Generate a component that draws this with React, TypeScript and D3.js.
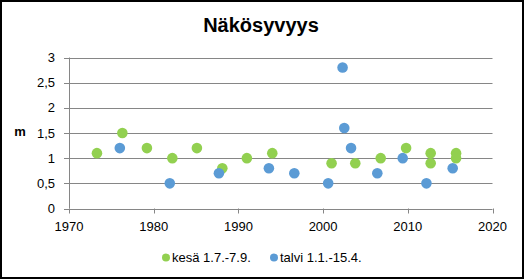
import React from "react";
import * as d3 from "d3";

const summerYears = [1973.3, 1976.3, 1979.2, 1982.2, 1985.1, 1988.1, 1991.0, 1994.0, 2001.0, 2003.8, 2006.8, 2009.8, 2012.7, 2012.7, 2015.7, 2015.7];
const summerValues = [1.1, 1.5, 1.2, 1.0, 1.2, 0.8, 1.0, 1.1, 0.9, 0.9, 1.0, 1.2, 1.1, 0.9, 1.1, 1.0];
const winterYears = [1976.0, 1981.9, 1987.7, 1993.6, 1996.6, 2000.6, 2002.3, 2002.5, 2003.3, 2006.4, 2009.4, 2012.2, 2015.3];
const winterValues = [1.2, 0.5, 0.7, 0.8, 0.7, 0.5, 2.8, 1.6, 1.2, 0.7, 1.0, 0.5, 0.8];
const xTicks = [1970, 1980, 1990, 2000, 2010, 2020];
const yTicks = [0, 0.5, 1, 1.5, 2, 2.5, 3];
const seriesNames = ["kesä 1.7.-7.9.", "talvi 1.1.-15.4."];
const colors = ["#92D050", "#5B9BD5"];

export default function App() {
  const W = 524, H = 279;
  const x = d3.scaleLinear().domain([1970, 2020]).range([69, 492.5]);
  const y = d3.scaleLinear().domain([0, 3]).range([208.5, 57.5]);
  const font = "'Liberation Sans', Arial, sans-serif";
  const fmt = (v: number) => String(v).replace(".", ",");
  const summer = summerYears.map((yr, i) => ({ yr, v: summerValues[i] }));
  const winter = winterYears.map((yr, i) => ({ yr, v: winterValues[i] }));
  return (
    <svg width={W} height={H} style={{ position: "absolute", left: 0, top: 0 }} fontFamily={font}>
      <rect x={0} y={0} width={W} height={H} fill="#fff" />
      <rect x={1} y={1} width={W - 2} height={H - 2} fill="none" stroke="#000" strokeWidth={2} />
      <text x={261} y={32} textAnchor="middle" fontSize={20} fontWeight="bold" fill="#000">Näkösyvyys</text>
      {yTicks.map((t) => (
        <g key={t}>
          {t > 0 && <line x1={x(1970)} x2={x(2020)} y1={Math.round(y(t)) + 0.5} y2={Math.round(y(t)) + 0.5} stroke="#868686" strokeWidth={1} />}
          <line x1={64} x2={69} y1={Math.round(y(t)) + 0.5} y2={Math.round(y(t)) + 0.5} stroke="#868686" />
          <text x={55} y={y(t) + 4.5} textAnchor="end" fontSize={13} fill="#000">{fmt(t)}</text>
        </g>
      ))}
      <line x1={69.5} x2={69.5} y1={y(3)} y2={y(0)} stroke="#868686" />
      <line x1={x(1970)} x2={x(2020)} y1={Math.round(y(0)) + 0.5} y2={Math.round(y(0)) + 0.5} stroke="#868686" />
      {xTicks.map((t) => (
        <g key={t}>
          <line x1={Math.round(x(t)) + 0.5} x2={Math.round(x(t)) + 0.5} y1={y(0)} y2={y(0) + 5} stroke="#868686" />
          <text x={x(t)} y={231} textAnchor="middle" fontSize={13} fill="#000">{t}</text>
        </g>
      ))}
      <text x={20} y={136} textAnchor="middle" fontSize={13} fontWeight="bold" fill="#000">m</text>
      {summer.map((d, i) => (
        <circle key={"s" + i} cx={x(d.yr)} cy={y(d.v)} r={5.3} fill={colors[0]} />
      ))}
      {winter.map((d, i) => (
        <circle key={"w" + i} cx={x(d.yr)} cy={y(d.v)} r={5.3} fill={colors[1]} />
      ))}
      <circle cx={166} cy={257.5} r={4} fill={colors[0]} />
      <text x={172} y={262} fontSize={13} fill="#000">{seriesNames[0]}</text>
      <circle cx={274} cy={257.5} r={4} fill={colors[1]} />
      <text x={280} y={262} fontSize={13} fill="#000">{seriesNames[1]}</text>
    </svg>
  );
}
